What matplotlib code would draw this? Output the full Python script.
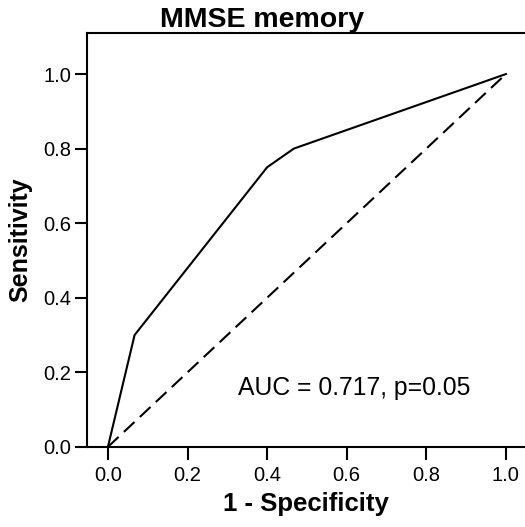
import matplotlib
matplotlib.use("Agg")
import matplotlib.pyplot as plt

plt.rcParams['font.family'] = ['Liberation Sans', 'DejaVu Sans']

# ROC curve points
fpr = [0.0, 0.067, 0.4, 0.467, 1.0]
tpr = [0.0, 0.3, 0.75, 0.8, 1.0]
ticks = [0.0, 0.2, 0.4, 0.6, 0.8, 1.0]
tick_labels = ['0.0', '0.2', '0.4', '0.6', '0.8', '1.0']
auc_text = 'AUC = 0.717, p=0.05'

fig = plt.figure(figsize=(5.25, 5.27), dpi=100)
ax = fig.add_axes([0.165, 0.152, 0.835, 0.786])

ax.plot(fpr, tpr, color='black', lw=1.5, solid_joinstyle='miter')
ax.plot([0, 1], [0, 1], color='black', lw=1.5, dashes=(7, 3.5))

ax.set_xlim(-0.0535, 1.048)
ax.set_ylim(0, 1.111)
ax.set_xticks(ticks)
ax.set_xticklabels(tick_labels)
ax.set_yticks(ticks)
ax.set_yticklabels(tick_labels)
ax.tick_params(direction='out', length=9, width=1.5, labelsize=14.5, pad=5)
ax.tick_params(axis='y', pad=2)

ax.spines['right'].set_visible(False)
for s in ['left', 'top', 'bottom']:
    ax.spines[s].set_linewidth(1.5)

ax.set_xlabel('1 - Specificity', fontsize=18.5, fontweight='bold', labelpad=5)
ax.set_ylabel('Sensitivity', fontsize=18, fontweight='bold', labelpad=8)
fig.text(0.5, 0.948, 'MMSE memory', ha='center', va='baseline',
         fontsize=20.5, fontweight='bold')

ax.text(0.327, 0.139, auc_text, fontsize=17.8, ha='left', va='baseline')

fig.savefig('out.png', dpi=100)
